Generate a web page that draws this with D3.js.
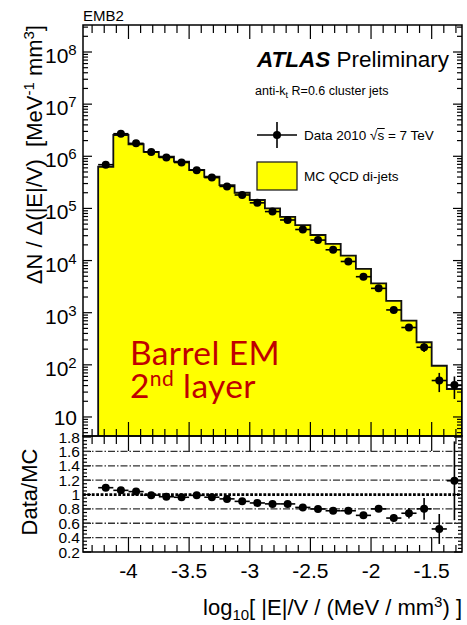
<!DOCTYPE html>
<html>
<head>
<meta charset="utf-8">
<script src="https://cdn.jsdelivr.net/npm/d3@7"></script>
<style>
  body { margin: 0; background: #fff; }
  svg { display: block; }
  text { font-family: "Liberation Sans", Arial, Helvetica, sans-serif; fill: #000; }
</style>
</head>
<body>
<svg id="chart" width="467" height="625"></svg>
<script>
// ---- data: log10(|E|/V) bins, MC QCD di-jets and Data 2010 ----
const binLow  = [-4.25, -4.125, -4.0, -3.875, -3.75, -3.625, -3.5, -3.375, -3.25, -3.125, -3.0, -2.875,
                 -2.75, -2.625, -2.5, -2.375, -2.25, -2.125, -2.0, -1.875, -1.75, -1.625, -1.5, -1.375];
const binHigh = [-4.125, -4.0, -3.875, -3.75, -3.625, -3.5, -3.375, -3.25, -3.125, -3.0, -2.875, -2.75,
                 -2.625, -2.5, -2.375, -2.25, -2.125, -2.0, -1.875, -1.75, -1.625, -1.5, -1.375, -1.25];
const mcValues   = [6.3e5, 2.56e6, 1.70e6, 1.22e6, 9.8e5, 7.9e5, 5.46e5, 4.05e5, 2.81e5, 2.00e5, 1.45e5, 1.00e5,
                    6.9e4, 4.8e4, 3.09e4, 2.08e4, 1.24e4, 6.9e3, 3.66e3, 1.68e3, 703, 271, 96, 34.4];
const dataValues = [6.9e5, 2.71e6, 1.77e6, 1.21e6, 9.5e5, 7.6e5, 5.4e5, 3.9e5, 2.64e5, 1.81e5, 1.28e5, 8.7e4,
                    6.0e4, 3.94e4, 2.47e4, 1.61e4, 9.6e3, 4.9e3, 2.93e3, 1.13e3, 520, 217, 50, 41];
const dataRelErr = [0.003, 0.002, 0.002, 0.003, 0.003, 0.003, 0.004, 0.005, 0.006, 0.007, 0.008, 0.01,
                    0.012, 0.015, 0.018, 0.022, 0.03, 0.04, 0.05, 0.08, 0.1, 0.19, 0.4, 0.46];

// ---- axis ticks ----
const xTickValues = [-4, -3.5, -3, -2.5, -2, -1.5];
const xTickLabels = ["-4", "-3.5", "-3", "-2.5", "-2", "-1.5"];
const logTickExponents = [1, 2, 3, 4, 5, 6, 7, 8];
const ratioTickValues = [0.2, 0.4, 0.6, 0.8, 1.0, 1.2, 1.4, 1.6, 1.8];
const ratioTickLabels = ["0.2", "0.4", "0.6", "0.8", "1", "1.2", "1.4", "1.6", "1.8"];
const ratioGuideValues = [0.4, 0.6, 0.8, 1.2, 1.4, 1.6];

// ---- layout ----
const L = 83, R = 462;
const mainTop = 25, mainBot = 436;
const ratTop = 436, ratBot = 552;

const svg = d3.select("#chart");
svg.append("rect").attr("width", 467).attr("height", 625).attr("fill", "#fff");

const x = d3.scaleLinear().domain([-4.375, -1.25]).range([L, R]);
const y = d3.scaleLog().domain([Math.pow(10, 0.635), Math.pow(10, 8.518)]).range([mainBot, mainTop]);
const yr = d3.scaleLinear().domain([0.2, 1.815]).range([ratBot, ratTop]);

const bins = binLow.map((lo, i) => ({
  lo, hi: binHigh[i], mid: (lo + binHigh[i]) / 2,
  mc: mcValues[i], data: dataValues[i], err: dataRelErr[i] * dataValues[i],
  ratio: dataValues[i] / mcValues[i], rerr: dataRelErr[i] * dataValues[i] / mcValues[i]
}));

const defs = svg.append("defs");
defs.append("clipPath").attr("id", "clipMain")
  .append("rect").attr("x", L).attr("y", mainTop).attr("width", R - L).attr("height", mainBot - mainTop);
defs.append("clipPath").attr("id", "clipRatio")
  .append("rect").attr("x", L).attr("y", ratTop).attr("width", R - L).attr("height", ratBot - ratTop);

// ================= main panel =================
const main = svg.append("g").attr("clip-path", "url(#clipMain)");

// MC histogram (filled step)
const stepPts = [[x(bins[0].lo), mainBot]];
bins.forEach(b => { stepPts.push([x(b.lo), y(b.mc)]); stepPts.push([x(b.hi), y(b.mc)]); });
stepPts.push([x(bins[bins.length - 1].hi), mainBot]);
main.append("path")
  .attr("d", d3.line()(stepPts) + "Z")
  .attr("fill", "#ffff00").attr("stroke", "none");
main.append("path")
  .attr("d", d3.line()(stepPts))
  .attr("fill", "none").attr("stroke", "#111").attr("stroke-width", 1.8);

// data points with error bars
const dg = main.append("g");
bins.forEach(b => {
  dg.append("line").attr("x1", x(b.lo)).attr("x2", x(b.hi)).attr("y1", y(b.data)).attr("y2", y(b.data))
    .attr("stroke", "#000").attr("stroke-width", 1.6);
  dg.append("line").attr("x1", x(b.mid)).attr("x2", x(b.mid))
    .attr("y1", y(b.data + b.err)).attr("y2", y(Math.max(b.data - b.err, 1e-3)))
    .attr("stroke", "#000").attr("stroke-width", 1.6);
  dg.append("circle").attr("cx", x(b.mid)).attr("cy", y(b.data)).attr("r", 4).attr("fill", "#000");
});

// ---- main axes (ticks inside the frame) ----
const axG = svg.append("g").attr("stroke", "#000").attr("stroke-width", 1.2);
const xMinor = d3.range(-4.3, -1.249, 0.1).map(v => Math.round(v * 10) / 10)
  .filter(v => !xTickValues.some(t => Math.abs(t - v) < 1e-6));

function xTicks(yEdge, dir, majorLen, minorLen) {
  xTickValues.forEach(v => axG.append("line").attr("x1", x(v)).attr("x2", x(v))
    .attr("y1", yEdge).attr("y2", yEdge + dir * majorLen));
  xMinor.forEach(v => axG.append("line").attr("x1", x(v)).attr("x2", x(v))
    .attr("y1", yEdge).attr("y2", yEdge + dir * minorLen));
}
xTicks(mainTop, 1, 14, 8);
xTicks(mainBot, -1, 14, 7);

// log y ticks on both sides
const [yLo, yHi] = y.domain();
const logMinor = [];
for (let d = 0; d <= 8; d++) for (let k = 2; k <= 9; k++) {
  const v = k * Math.pow(10, d);
  if (v > yLo && v < yHi) logMinor.push(v);
}
[L, R].forEach((xe, side) => {
  const dir = side === 0 ? 1 : -1;
  logTickExponents.forEach(e => axG.append("line").attr("x1", xe).attr("x2", xe + dir * 9)
    .attr("y1", y(Math.pow(10, e))).attr("y2", y(Math.pow(10, e))));
  logMinor.forEach(v => axG.append("line").attr("x1", xe).attr("x2", xe + dir * 5)
    .attr("y1", y(v)).attr("y2", y(v)));
});

// log labels: 10, 10^2 ... 10^8
logTickExponents.forEach(e => {
  const t = svg.append("text").attr("font-size", 21);
  if (e === 1) {
    t.attr("x", 77).attr("y", y(10) + 8).attr("text-anchor", "end").text("10");
    return;
  }
  t.attr("x", 45).attr("y", y(Math.pow(10, e)) + 11);
  t.append("tspan").text("10");
  t.append("tspan").attr("dy", -8).attr("font-size", 15).text(e);
});

svg.append("rect").attr("x", L).attr("y", mainTop).attr("width", R - L).attr("height", mainBot - mainTop)
  .attr("fill", "none").attr("stroke", "#000").attr("stroke-width", 1.5);

// y title
const yt = svg.append("text").attr("transform", `translate(42,${mainTop}) rotate(-90)`)
  .attr("text-anchor", "end").attr("font-size", 22);
yt.append("tspan").text("\u0394N / \u0394(|E|/V)\u00a0\u00a0[MeV");
yt.append("tspan").attr("dy", -8).attr("font-size", 15).text("-1");
yt.append("tspan").attr("dy", 8).text(" mm");
yt.append("tspan").attr("dy", -8).attr("font-size", 15).text("3");
yt.append("tspan").attr("dy", 8).text("]");

// top-left label
svg.append("text").attr("x", 83).attr("y", 21).attr("font-size", 15).text("EMB2");

// ATLAS label
const at = svg.append("text").attr("x", 257).attr("y", 67).attr("font-size", 22.5);
at.append("tspan").attr("font-weight", "bold").attr("font-style", "italic").text("ATLAS");
at.append("tspan").text(" Preliminary");

const ak = svg.append("text").attr("x", 255).attr("y", 95).attr("font-size", 12.5);
ak.append("tspan").text("anti-k");
ak.append("tspan").attr("dy", 3).attr("font-size", 9).text("t");
ak.append("tspan").attr("dy", -3).text(" R=0.6 cluster jets");

// legend
const lg = svg.append("g");
lg.append("line").attr("x1", 257).attr("x2", 297).attr("y1", 135).attr("y2", 135).attr("stroke", "#000").attr("stroke-width", 1.6);
lg.append("line").attr("x1", 277).attr("x2", 277).attr("y1", 122).attr("y2", 148).attr("stroke", "#000").attr("stroke-width", 1.6);
lg.append("circle").attr("cx", 277).attr("cy", 135).attr("r", 4).attr("fill", "#000");
const dl = lg.append("text").attr("x", 304).attr("y", 140).attr("font-size", 13.5)
  .text("Data 2010 \u221As = 7 TeV");
{
  const n = dl.node();
  const s0 = n.getStartPositionOfChar(10), s1 = n.getEndPositionOfChar(11);
  lg.append("line").attr("x1", s0.x + 7).attr("x2", s1.x + 0.5).attr("y1", 128.5).attr("y2", 128.5)
    .attr("stroke", "#000").attr("stroke-width", 1);
}
lg.append("rect").attr("x", 257).attr("y", 162).attr("width", 40).attr("height", 28)
  .attr("fill", "#ffff00").attr("stroke", "#222").attr("stroke-width", 1.3);
lg.append("text").attr("x", 304).attr("y", 181).attr("font-size", 13.5).text("MC QCD di-jets");

// red annotation
const ann = svg.append("g");
ann.append("text").attr("x", 130).attr("y", 365).attr("font-size", 33.5).attr("letter-spacing", 0.4)
  .style("font-family", "Lato, 'Open Sans', sans-serif").style("fill", "#c00000").text("Barrel EM");
const a2 = ann.append("text").attr("x", 130).attr("y", 398).attr("font-size", 33.5).attr("letter-spacing", 0.4)
  .style("font-family", "Lato, 'Open Sans', sans-serif").style("fill", "#c00000");
a2.append("tspan").text("2");
a2.append("tspan").attr("dy", -12).attr("font-size", 21).text("nd");
a2.append("tspan").attr("dy", 12).text(" layer");

// ================= ratio panel =================
const rg = svg.append("g").attr("clip-path", "url(#clipRatio)");
ratioGuideValues.forEach(v => rg.append("line").attr("x1", L).attr("x2", R).attr("y1", yr(v)).attr("y2", yr(v))
  .attr("stroke", "#333").attr("stroke-width", 1.3).attr("stroke-dasharray", "7,2,1.5,2"));
rg.append("line").attr("x1", L).attr("x2", R).attr("y1", yr(1)).attr("y2", yr(1))
  .attr("stroke", "#000").attr("stroke-width", 2.8).attr("stroke-dasharray", "2.8,1.6");

bins.forEach(b => {
  rg.append("line").attr("x1", x(b.lo)).attr("x2", x(b.hi)).attr("y1", yr(b.ratio)).attr("y2", yr(b.ratio))
    .attr("stroke", "#000").attr("stroke-width", 1.6);
  rg.append("line").attr("x1", x(b.mid)).attr("x2", x(b.mid))
    .attr("y1", yr(b.ratio + b.rerr)).attr("y2", yr(b.ratio - b.rerr))
    .attr("stroke", "#000").attr("stroke-width", 1.6);
  rg.append("circle").attr("cx", x(b.mid)).attr("cy", yr(b.ratio)).attr("r", 4).attr("fill", "#000");
});

xTicks(ratTop, 1, 15, 8);
xTicks(ratBot, -1, 15, 7);

const ratioMinor = d3.range(0.25, 1.8, 0.05).map(v => Math.round(v * 100) / 100)
  .filter(v => !ratioTickValues.some(t => Math.abs(t - v) < 1e-6));
[L, R].forEach((xe, side) => {
  const dir = side === 0 ? 1 : -1;
  ratioTickValues.forEach(v => axG.append("line").attr("x1", xe).attr("x2", xe + dir * 8)
    .attr("y1", yr(v)).attr("y2", yr(v)));
  ratioMinor.forEach(v => axG.append("line").attr("x1", xe).attr("x2", xe + dir * 4)
    .attr("y1", yr(v)).attr("y2", yr(v)));
});

svg.append("rect").attr("x", L).attr("y", ratTop).attr("width", R - L).attr("height", ratBot - ratTop)
  .attr("fill", "none").attr("stroke", "#000").attr("stroke-width", 1.5);

ratioTickValues.forEach((v, i) => svg.append("text").attr("x", 80).attr("y", yr(v) + 5.5)
  .attr("text-anchor", "end").attr("font-size", 15.5).text(ratioTickLabels[i]));

svg.append("text").attr("transform", `translate(37,${(ratTop + ratBot) / 2 - 2}) rotate(-90)`)
  .attr("text-anchor", "middle").attr("font-size", 22).text("Data/MC");

// x tick labels and title
xTickValues.forEach((v, i) => svg.append("text").attr("x", x(v)).attr("y", 578)
  .attr("text-anchor", "middle").attr("font-size", 21).text(xTickLabels[i]));

const xt = svg.append("text").attr("x", R).attr("y", 615).attr("text-anchor", "end").attr("font-size", 22);
xt.append("tspan").text("log");
xt.append("tspan").attr("dy", 5).attr("font-size", 15).text("10");
xt.append("tspan").attr("dy", -5).text("[ |E|/V / (MeV / mm");
xt.append("tspan").attr("dy", -8).attr("font-size", 15).text("3");
xt.append("tspan").attr("dy", 8).text(") ]");
</script>
</body>
</html>
